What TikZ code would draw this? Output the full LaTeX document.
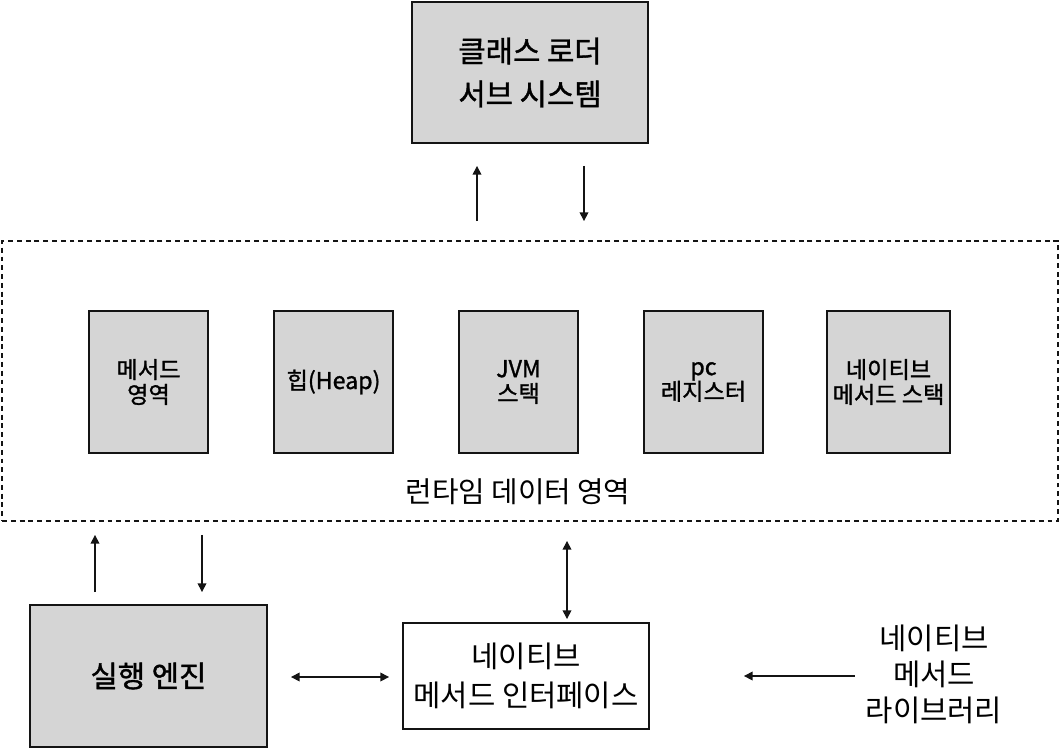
\documentclass[tikz,border=0pt]{standalone}
\usepackage{fontspec}
\setmainfont{Noto Sans CJK KR}
\newfontfamily\krmed{Noto Sans CJK KR}[FakeBold=1.3]
\usepackage{xcolor}
\definecolor{boxgray}{RGB}{213,213,213}
\definecolor{lineblack}{RGB}{20,20,20}
\usetikzlibrary{arrows.meta, positioning, calc}

\begin{document}
\begin{tikzpicture}[x=0.02cm, y=-0.02cm,
  bigbox/.style={rectangle, draw=lineblack, line width=1.1pt, fill=#1,
                 align=center, font=\krmed\fontsize{16.9pt}{24.5pt}\selectfont},
  area/.style={rectangle, draw=lineblack, fill=boxgray, line width=1.1pt,
               minimum width=2.38cm, minimum height=2.84cm, align=center,
               font=\krmed\fontsize{13.2pt}{14.2pt}\selectfont},
  region/.style={rectangle, draw=lineblack, line width=1.1pt,
                 dash pattern=on 2.8pt off 2.2pt},
  biglabel/.style={font=\fontsize{16.9pt}{20.5pt}\selectfont, align=center},
  arr/.style={draw=lineblack, line width=0.85pt, -{Triangle[length=5pt, width=5pt]}},
  darr/.style={draw=lineblack, line width=0.85pt,
               {Triangle[length=5pt, width=5pt]}-{Triangle[length=5pt, width=5pt]}}
]
\useasboundingbox (0,0) rectangle (1061,750);

% Class loader subsystem
\node[bigbox=boxgray, minimum width=4.72cm, minimum height=2.82cm] (loader) at (530,72.5)
  {클래스 로더\\서브 시스템};

% Runtime data area
\node[region, minimum width=21.12cm, minimum height=5.6cm] (rtda) at (530,381) {};
\node[area] (method) at (148.5,382) {메서드\\영역};
\node[area] (heap)   at (333.5,382) {힙(Heap)};
\node[area] (jvm)    at (518.5,382) {JVM\\스택};
\node[area] (pcreg)  at (703.5,382) {pc\\레지스터};
\node[area] (nstack) at (888.5,382) {네이티브\\메서드 스택};
\node[font=\fontsize{16.4pt}{18pt}\selectfont] (rtdalabel) at (518,492) {런타임 데이터 영역};

% Execution engine and native interface
\node[bigbox=boxgray, minimum width=4.74cm, minimum height=2.84cm] (engine) at (148.5,676) {실행 엔진};
\node[bigbox=white, minimum width=4.92cm, minimum height=2.12cm,
      font=\fontsize{16.9pt}{22.1pt}\selectfont] (jni) at (526,676)
  {네이티브\\메서드 인터페이스};
\node[biglabel] (nlib) at (934,674) {네이티브\\메서드\\라이브러리};

% Connectors
\draw[arr, shorten <=0.38cm, shorten >=0.44cm] (rtda.north -| 477,0) -- (loader.south -| 477,0);
\draw[arr, shorten <=0.44cm, shorten >=0.38cm] (loader.south -| 584,0) -- (rtda.north -| 584,0);
\draw[arr, shorten <=0.24cm, shorten >=0.26cm] (engine.north -| 95,0) -- (rtda.south -| 95,0);
\draw[arr, shorten <=0.26cm, shorten >=0.24cm] (rtda.south -| 202,0) -- (engine.north -| 202,0);
\draw[darr, shorten <=0.38cm, shorten >=0.06cm] (rtda.south -| 567,0) -- (jni.north -| 567,0);
\draw[darr, shorten <=0.46cm, shorten >=0.26cm] (engine.east |- 0,677) -- (jni.west |- 0,677);
\draw[arr, shorten <=0.1cm, shorten >=1.88cm] (nlib.west |- 0,676) -- (jni.east |- 0,676);
\end{tikzpicture}
\end{document}
